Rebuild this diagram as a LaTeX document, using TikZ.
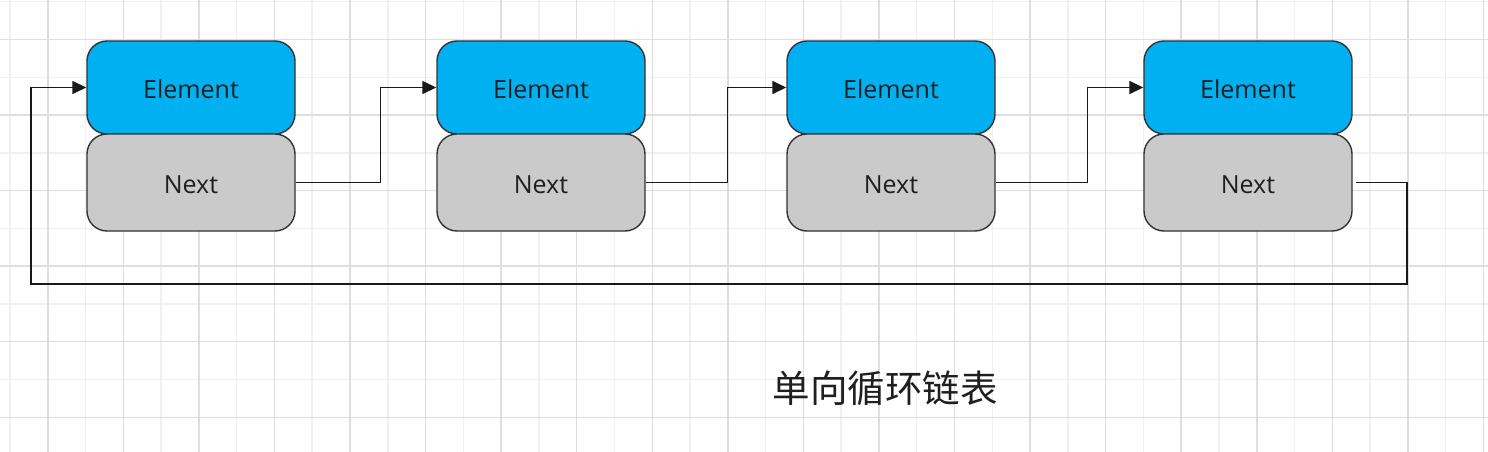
\documentclass[tikz,border=0pt]{standalone}
\usepackage{fontspec}
\setmainfont{Open Sans}
\newfontfamily\cjk{Noto Sans CJK SC}
\usetikzlibrary{arrows.meta,calc}
\definecolor{elblue}{HTML}{00B0F0}
\definecolor{nxgray}{HTML}{CACACA}
\definecolor{edgec}{HTML}{333333}
\definecolor{gridmin}{HTML}{F0F0F0}
\definecolor{gridmaj}{HTML}{DEDEDE}
\definecolor{txt}{HTML}{1F1F1F}
\tikzset{
  cell/.style={draw=edgec, line width=1.4pt, rounded corners=20pt, minimum width=208pt,
    inner sep=0pt, text height=22pt, text depth=0pt,
    font=\fontsize{25}{30}\selectfont, text=txt},
  elem/.style={cell, fill=elblue, minimum height=93pt},
  nxt/.style={cell, fill=nxgray, minimum height=97pt},
  link/.style={draw=black!90, line width=1.5pt, -{Triangle[length=14pt,width=13pt]}},
  gminor/.style={draw=gridmin, line width=1.5pt},
  gmajor/.style={draw=gridmaj, line width=1.5pt},
}
\begin{document}
\begin{tikzpicture}[x=1pt,y=-1pt]
\fill[white] (0,0) rectangle (1488,452);
\useasboundingbox (0,0) rectangle (1488,452);
% grid
\foreach \k in {0,2,...,38} \draw[gminor] ({10+37.78*\k},0) -- ({10+37.78*\k},452);
\foreach \k in {0,2,...,10} \draw[gminor] (0,{1.7+37.78*\k}) -- (1488,{1.7+37.78*\k});
\foreach \k in {1,3,...,39} \draw[gmajor] ({10+37.78*\k},0) -- ({10+37.78*\k},452);
\foreach \k in {1,3,...,11} \draw[gmajor] (0,{1.7+37.78*\k}) -- (1488,{1.7+37.78*\k});
% nodes
\node[elem] (e1) at (191,87.5) {Element};
\node[nxt]  (n1) at (191,182.5) {Next};
\node[elem] (e2) at (541,87.5) {Element};
\node[nxt]  (n2) at (541,182.5) {Next};
\node[elem] (e3) at (891,87.5) {Element};
\node[nxt]  (n3) at (891,182.5) {Next};
\node[elem] (e4) at (1248,87.5) {Element};
\node[nxt]  (n4) at (1248,182.5) {Next};
% links
\draw[link] (n1.east) -| ([xshift=-56pt]e2.west) -- (e2.west);
\draw[link] (n2.east) -| ([xshift=-59pt]e3.west) -- (e3.west);
\draw[link] (n3.east) -| ([xshift=-56pt]e4.west) -- (e4.west);
\coordinate (s) at ([xshift=3pt]n4.east);
\coordinate (r) at (1407,284);
\coordinate (l) at (31,284);
\draw[link] (s) -| (r) -- (l) |- (e1.west);
% title
\node[font=\cjk\fontsize{37.5}{42}\selectfont, text=txt] (title) at (885,388) {单向循环链表};
\end{tikzpicture}
\end{document}
